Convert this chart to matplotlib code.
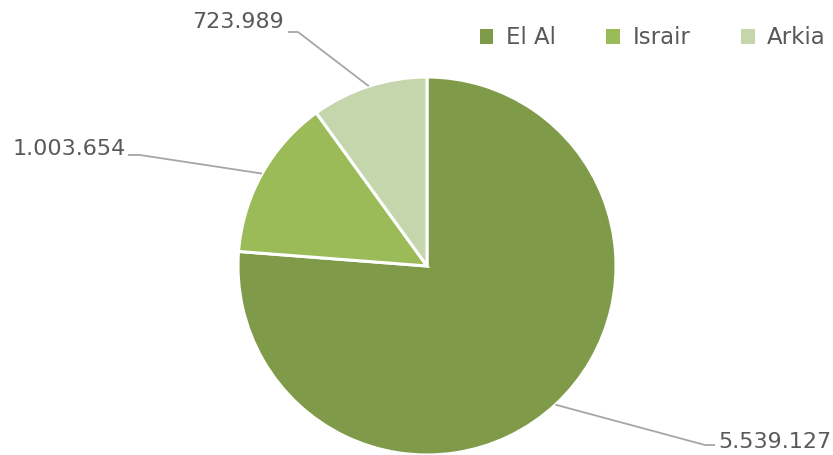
import matplotlib.pyplot as plt
import numpy as np

# Passengers per airline
airlines = ["El Al", "Israir", "Arkia"]
passengers = [5539127, 1003654, 723989]
labels = ["5.539.127", "1.003.654", "723.989"]
colors = ["#7f9a48", "#9bbb59", "#c5d6ad"]

W, H = 833, 455
fig = plt.figure(figsize=(W / 100, H / 100), dpi=100)
ax = fig.add_axes([0, 0, 1, 1])

cx, cy, r = 427, H - 266, 189
wedges, _ = ax.pie(passengers, colors=colors, startangle=90, counterclock=False,
                   center=(cx, cy), radius=r, frame=True,
                   wedgeprops=dict(edgecolor="white", linewidth=2.2))
ax.set_xlim(0, W)
ax.set_ylim(0, H)
ax.axis("off")

txt_color = "#595959"
line_color = "#a6a6a6"
font = ["DejaVu Sans"]

# elbow point, line end and text anchor for each label (pixels, y from top)
elbows = [(705, 445), (140, 155), (298, 32)]
ends = [(715, 445), (128, 155), (288, 32)]
text_pos = [(718, 442), (126, 149), (284, 22)]
aligns = ["left", "right", "right"]

for w, lab, el, en, tp, ha in zip(wedges, labels, elbows, ends, text_pos, aligns):
    ang = np.deg2rad((w.theta1 + w.theta2) / 2)
    px, py = cx + r * np.cos(ang), cy + r * np.sin(ang)
    ax.plot([px, el[0], en[0]], [py, H - el[1], H - en[1]],
            color=line_color, lw=1.3, solid_capstyle="butt")
    ax.text(tp[0], H - tp[1], lab, ha=ha, va="center",
            fontsize=16, color=txt_color, family=font)

leg = ax.legend(wedges, airlines, ncol=3, loc="center right",
                bbox_to_anchor=(826 / W, 1 - 38 / H), frameon=False,
                handlelength=0.6, handleheight=0.6, handletextpad=0.55,
                columnspacing=2.2, borderaxespad=0, borderpad=0,
                prop=dict(family=font, size=16.5))
for t in leg.get_texts():
    t.set_color(txt_color)
for h in leg.legend_handles:
    h.set_edgecolor("none")

fig.savefig("out.png", dpi=100)
